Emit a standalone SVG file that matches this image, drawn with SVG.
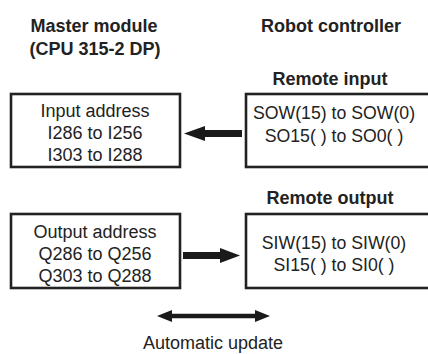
<svg xmlns="http://www.w3.org/2000/svg" width="428" height="354" viewBox="0 0 428 354">
<style>
text{font-family:"Liberation Sans",Arial,sans-serif;fill:#222;text-anchor:middle}
.t{font-size:18px;font-weight:bold}
.b{font-size:18px}
.r{font-size:17.7px}
.box{fill:#fff;stroke:#222;stroke-width:2.6}
.ar{fill:#1a1a1a}
</style>
<rect width="428" height="354" fill="#fff"/>
<g id="title-master"><text class="t" x="94" y="32">Master module</text><text class="t" x="95" y="55">(CPU 315-2 DP)</text></g>
<g id="title-robot"><text class="t" x="331" y="32">Robot controller</text></g>
<g id="input-address"><rect class="box" x="11" y="94" width="169" height="73"/><text class="b" x="95" y="117">Input address</text><text class="b" x="95" y="139">I286 to I256</text><text class="b" x="95" y="161">I303 to I288</text></g>
<g id="remote-input"><text class="t" x="330" y="85">Remote input</text><rect class="box" x="246" y="94" width="190" height="73"/><text class="r" x="334" y="119">SOW(15) to SOW(0)</text><text class="r" x="334" y="142">SO15( ) to SO0( )</text></g>
<g id="output-address"><rect class="box" x="11" y="214" width="169" height="74"/><text class="b" x="95" y="238">Output address</text><text class="b" x="95" y="260">Q286 to Q256</text><text class="b" x="95" y="282">Q303 to Q288</text></g>
<g id="remote-output"><text class="t" x="330" y="204">Remote output</text><rect class="box" x="246" y="214" width="190" height="74"/><text class="r" x="334" y="249">SIW(15) to SIW(0)</text><text class="r" x="334" y="271">SI15( ) to SI0( )</text></g>
<g id="connectors">
<path class="ar" d="M242,130 L205,130 L205,126 L184,133.5 L205,141 L205,137 L242,137 Z"/>
<path class="ar" d="M183,252 L220,252 L220,248 L240,255.5 L220,263 L220,259 L183,259 Z"/>
<path class="ar" d="M157,316 L172,310 L172,313.8 L255,313.8 L255,310 L270,316 L255,322 L255,318.2 L172,318.2 L172,322 Z"/>
</g>
<g id="label-update"><text class="b" x="213" y="349">Automatic update</text></g>
</svg>
